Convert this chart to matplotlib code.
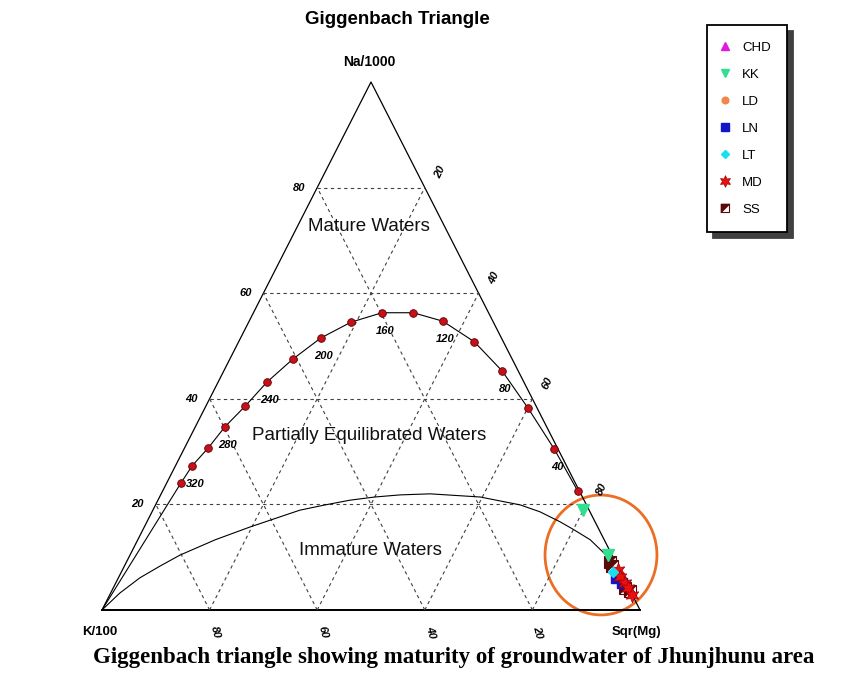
import matplotlib
matplotlib.use("Agg")
import numpy as np
import matplotlib.pyplot as plt
from matplotlib.patches import Ellipse
from matplotlib.legend_handler import HandlerTuple

plt.rcParams["font.family"] = ["Liberation Sans", "DejaVu Sans"]

# full equilibrium curve (ternary %: Na/1000, Sqr(Mg)), temperature of each dot
eq_temp = [340, 320, 300, 280, 260, 240, 220, 200, 180, 160, 140, 120, 100, 80, 60, 40, 20]
eq_na = [24.1, 27.3, 30.7, 34.7, 38.6, 43.2, 47.5, 51.5, 54.5, 56.3, 56.3, 54.7, 50.8, 45.3, 38.3, 30.5, 22.5]
eq_mg = [2.65, 3.1, 4.4, 5.5, 7.3, 9.1, 11.7, 14.9, 19.0, 23.9, 29.7, 36.0, 43.8, 51.7, 60.0, 68.8, 77.2]
eq_labels = [320, 280, 240, 200, 160, 120, 80, 40]

# immature waters boundary
imm_na = [0, 3.2, 6.1, 8.3, 10.4, 13.3, 15.7, 18.9, 19.9, 20.8, 21.4, 21.8, 22.0, 21.4, 19.9, 18.6, 16.7, 15.3, 13.3, 10.2]
imm_mg = [0, 1.7, 4.0, 6.6, 9.3, 14.4, 19.6, 27.3, 31.5, 35.7, 40.0, 44.5, 50.0, 59.6, 67.8, 72.1, 76.8, 79.9, 84.1, 88.8]

# samples
chd_na, chd_mg = [8.3], [90.6]
kk_na, kk_mg = [18.9, 10.4], [79.9, 88.8]
ld_na, ld_mg = [6.3], [93.2]
ln_na, ln_mg = [6.1, 5.1], [92.5, 94.1]
lt_na, lt_mg = [7.2], [91.4]
md_na, md_mg = [7.6, 6.25, 5.1, 4.2, 2.8], [92.1, 93.2, 94.7, 95.7, 97.1]
ss_na, ss_mg = [9.1, 8.3, 4.2, 3.6], [89.9, 90.6, 95.1, 96.3]

grid_vals = [20, 40, 60, 80]


def txy(na, mg):
    na = np.asarray(na, dtype=float) / 100
    mg = np.asarray(mg, dtype=float) / 100
    return mg + na / 2, na


W, H = 855, 675
fig = plt.figure(figsize=(W / 100, H / 100), dpi=100)
ax = fig.add_axes([102 / W, 65 / H, 538 / W, 528 / H])
ax.set_xlim(0, 1)
ax.set_ylim(0, 1)
ax.axis("off")

# triangle
ax.plot([0, 1, 0.5, 0], [0, 0, 1, 0], color="black", lw=0.9, clip_on=False)
ax.plot([0, 1], [0, 0], color="black", lw=1.4, clip_on=False)

# dashed grid
dash = dict(color="0.25", lw=0.8, linestyle=(0, (3, 3)))
for v in grid_vals:
    t = v / 100
    ax.plot([t / 2, 1 - t / 2], [t, t], **dash)
    ax.plot([t, (1 + t) / 2], [0, 1 - t], **dash)
    ax.plot([t, t / 2], [0, t], **dash)

# axis labels around the triangle
tl = dict(fontsize=8, fontweight="bold", fontstyle="italic", ha="center", va="center")
for v in grid_vals:
    t = v / 100
    ax.annotate(str(v), (t / 2, t), xytext=(-13, 0), textcoords="offset points", **tl)
    ax.annotate(str(100 - v), (1 - t / 2, t), xytext=(11, 11), textcoords="offset points",
                rotation=65, **tl)
    ax.annotate(str(100 - v), (t, 0), xytext=(4, -16), textcoords="offset points",
                rotation=-75, **tl)

# equilibrium curve
ex, ey = txy([0] + eq_na, [0] + eq_mg)
ax.plot(ex, ey, color="black", lw=0.8)
dx, dy = txy(eq_na, eq_mg)
ax.plot(dx, dy, "o", ls="none", ms=5.5, mfc="#c8101a", mec="#5a0000", mew=0.6)
for T, x, y in zip(eq_temp, dx, dy):
    if T in eq_labels:
        ax.annotate(str(T), (x, y), xytext=(2, -13), textcoords="offset points", **tl)

# immature curve
ix, iy = txy(imm_na, imm_mg)
ax.plot(ix, iy, color="black", lw=0.8)

# region names
for name, (x, y) in {"Mature Waters": (0.4962, 0.7254),
                     "Partially Equilibrated Waters": (0.4962, 0.3314),
                     "Immature Waters": (0.4981, 0.1136)}.items():
    ax.text(x, y, name, fontsize=13.5, ha="center", va="center", color="#111111")

# samples
sq_tri = [(-1, -1), (-1, 1), (1, 1), (-1, -1)]
sx, sy = txy(chd_na, chd_mg)
h_chd, = ax.plot(sx, sy, "^", ls="none", ms=7, color="#e018e0")
sx, sy = txy(ld_na, ld_mg)
h_ld, = ax.plot(sx, sy, "o", ls="none", ms=6, color="#f08848")
sx, sy = txy(ss_na, ss_mg)
h_ss1, = ax.plot(sx, sy, "s", ls="none", ms=8, mfc="white", mec="#5a0a0a", mew=0.8)
h_ss2, = ax.plot(sx, sy, marker=sq_tri, ls="none", ms=8, mfc="#5a0a0a", mec="#5a0a0a", mew=0.5)
sx, sy = txy(ln_na, ln_mg)
h_ln, = ax.plot(sx, sy, "s", ls="none", ms=6.5, color="#1414c8")
sx, sy = txy(md_na, md_mg)
h_md, = ax.plot(sx, sy, marker=(6, 1, 0), ls="none", ms=10.5, mfc="#e81010", mec="#a00000", mew=0.5)
sx, sy = txy(lt_na, lt_mg)
h_lt, = ax.plot(sx, sy, "D", ls="none", ms=5.5, color="#18e0f0")
sx, sy = txy(kk_na, kk_mg)
h_kk, = ax.plot(sx, sy, "v", ls="none", ms=8, color="#30e090")

# orange circle around the samples
ax.add_patch(Ellipse((0.9275, 0.1042), 0.208, 0.227, fill=False, ec="#ec6e24", lw=2.0,
                     clip_on=False))

# texts
fig.text(397 / W, 1 - 20 / H, "Giggenbach Triangle", fontsize=13.5, fontweight="heavy",
         ha="center", va="center")
fig.text(369 / W, 1 - 62 / H, "Na/1000", fontsize=10, fontweight="bold", ha="center", va="center")
fig.text(100 / W, 1 - 632 / H, "K/100", fontsize=9.5, fontweight="bold", ha="center", va="center")
fig.text(636 / W, 1 - 632 / H, "Sqr(Mg)", fontsize=9.5, fontweight="bold", ha="center", va="center")
fig.text(454 / W, 1 - 657 / H,
         "Giggenbach triangle showing maturity of groundwater of Jhunjhunu area",
         fontsize=16.5, fontweight="bold", family="Liberation Serif", ha="center", va="center")

# legend
leg = fig.legend([h_chd, h_kk, h_ld, h_ln, h_lt, h_md, (h_ss1, h_ss2)],
                 ["CHD", "KK", "LD", "LN", "LT", "MD", "SS"],
                 handler_map={tuple: HandlerTuple(ndivide=1)},
                 loc="upper left", bbox_to_anchor=(707 / W, 1 - 25 / H),
                 bbox_transform=fig.transFigure, borderaxespad=0,
                 frameon=True, fancybox=False, edgecolor="black",
                 shadow={"ox": 4, "oy": -4, "facecolor": "0.25", "edgecolor": "0.25", "alpha": 1},
                 fontsize=9.5, labelspacing=1.12, handlelength=0.2, handletextpad=1.2,
                 borderpad=1.25, markerscale=0.8)
leg.get_frame().set_linewidth(1.3)

fig.savefig("out.png", dpi=100)
